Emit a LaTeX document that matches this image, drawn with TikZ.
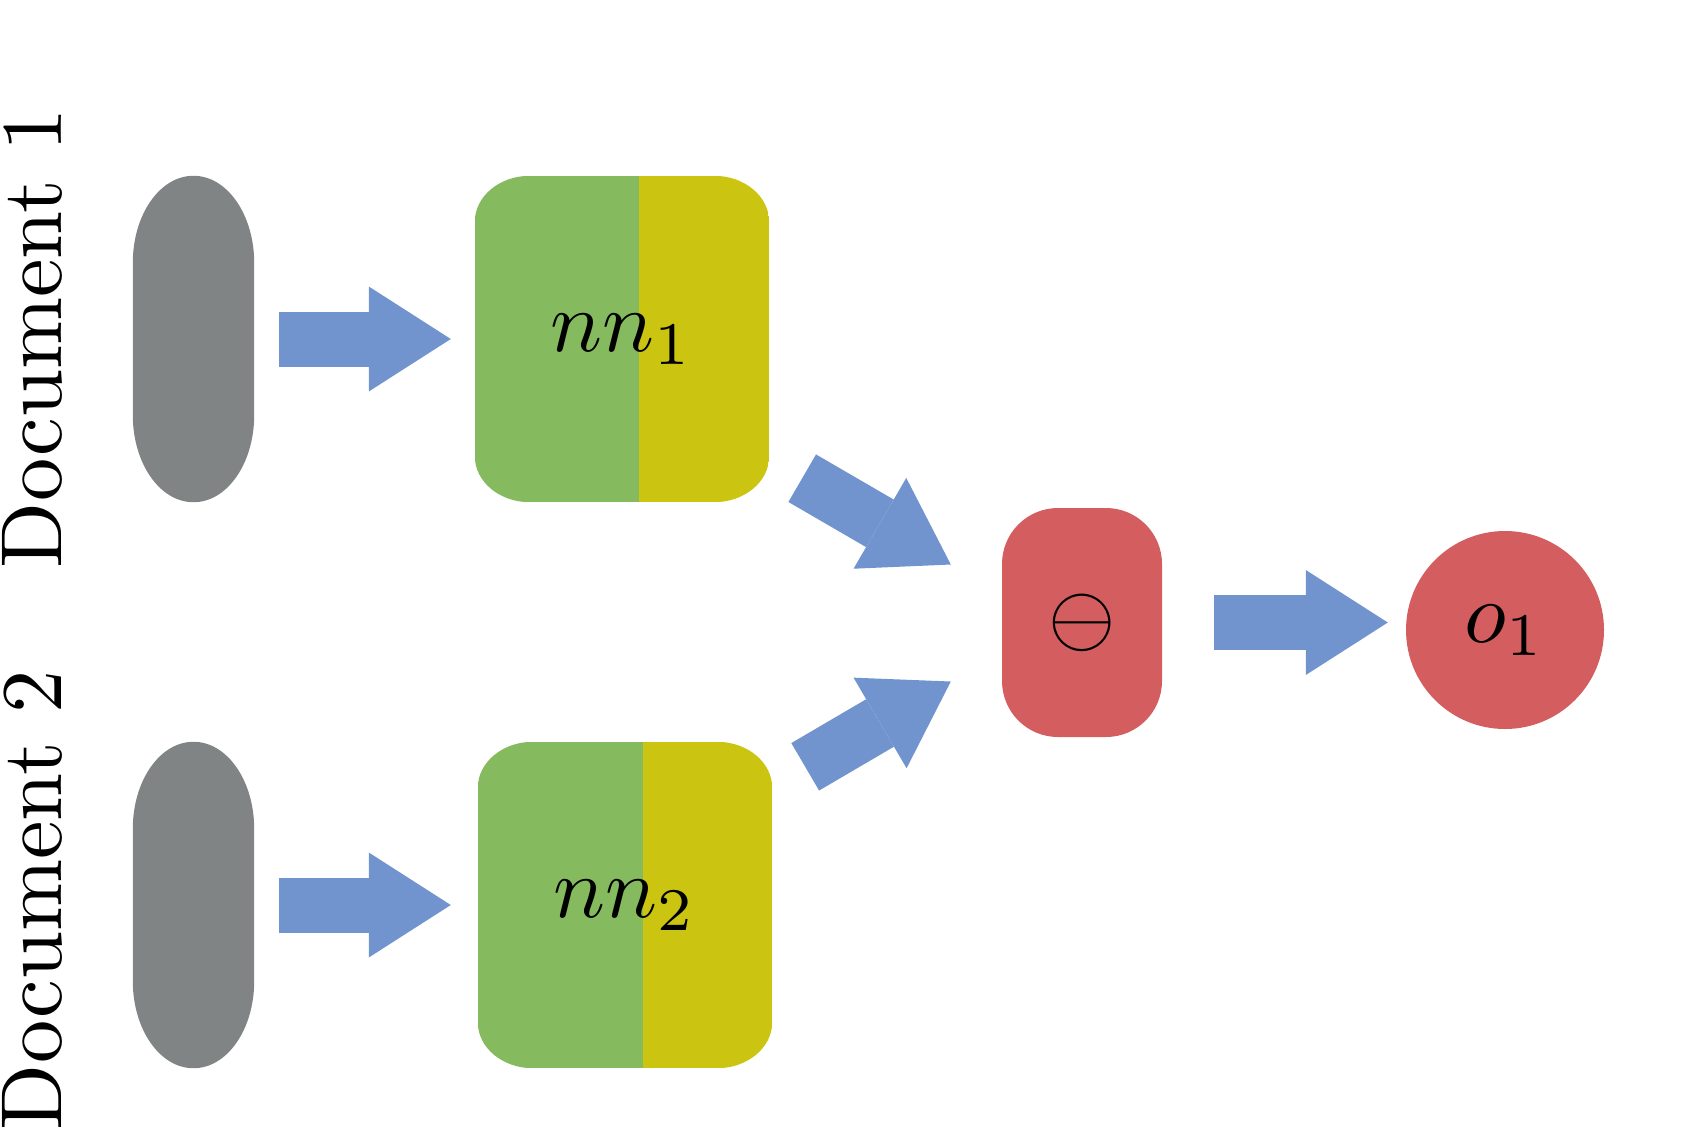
\documentclass[tikz,border=0pt]{standalone}
\usetikzlibrary{calc,arrows.meta}
\pgfdeclarelayer{background}
\pgfsetlayers{background,main}
\definecolor{grayc}{RGB}{128,132,132}
\definecolor{greenc}{RGB}{134,186,94}
\definecolor{yellowc}{RGB}{203,197,17}
\definecolor{redc}{RGB}{212,94,95}
\definecolor{bluec}{RGB}{114,148,206}
\newcommand\ellpath[3]{($(#1.north west)+(#2,0)$) -- ($(#1.north east)+(-#2,0)$) arc[start angle=90,end angle=0,x radius=#2pt,y radius=#3pt] -- ($(#1.south east)+(0,-#3)$) arc[start angle=0,end angle=-90,x radius=#2pt,y radius=#3pt] -- ($(#1.south west)+(#2,0)$) arc[start angle=-90,end angle=-180,x radius=#2pt,y radius=#3pt] -- ($(#1.north west)+(0,#3)$) arc[start angle=180,end angle=90,x radius=#2pt,y radius=#3pt] -- cycle}
\newcommand\bigtxt[1]{\scalebox{8.65}{#1}}
\tikzset{
  every node/.style={inner sep=0pt},
  blob/.style={rectangle, minimum width=121pt, minimum height=326pt},
  nnbox/.style={rectangle, minimum width=294pt, minimum height=326pt},
  sumbox/.style={rectangle, rounded corners=56pt, fill=redc, minimum width=160pt, minimum height=229pt},
  outnode/.style={circle, fill=redc, minimum size=198pt},
  doclabel/.style={rotate=90, anchor=base},
  bigarrow/.style={draw=bluec, line width=55pt, line cap=butt,
    -{Triangle[length=82pt 0 0, width=105pt 0 0, line width=0pt]}},
}
\begin{document}
\begin{tikzpicture}[x=1pt,y=-1pt]
\useasboundingbox (0,0) rectangle (1699,1136);
% labels
\node[doclabel] (doc1) at (61,338) {\bigtxt{Document 1}};
\node[doclabel] (doc2) at (61,900) {\bigtxt{Document 2}};
% nodes
\node[blob] (g1) at (193.5,339) {};
\node[blob] (g2) at (193.5,905) {};
\node[nnbox] (n1) at (622,339) {\bigtxt{$nn_1$}};
\node[nnbox] (n2) at (625,905) {\bigtxt{$nn_2$}};
\node[sumbox] (r) at (1082,622.5) {\bigtxt{$\ominus$}};
\node[outnode] (o1) at (1505,630) {\bigtxt{$o_1$}};
% backgrounds
\begin{pgfonlayer}{background}
  \fill[grayc] \ellpath{g1}{60.5}{87};
  \fill[grayc] \ellpath{g2}{60.5}{87};
  \begin{scope}
    \clip \ellpath{n1}{55}{46};
    \fill[greenc] (n1.north west) rectangle ($(n1.south west)+(164,0)$);
    \fill[yellowc] ($(n1.north west)+(164,0)$) rectangle (n1.south east);
  \end{scope}
  \begin{scope}
    \clip \ellpath{n2}{55}{46};
    \fill[greenc] (n2.north west) rectangle ($(n2.south west)+(165,0)$);
    \fill[yellowc] ($(n2.north west)+(165,0)$) rectangle (n2.south east);
  \end{scope}
\end{pgfonlayer}
% connectors
\coordinate (d1s) at ($(n1.south east)+(33,-24)$);
\coordinate (d1e) at ($(r.west)+(-51,-58)$);
\coordinate (d2s) at ($(n2.north east)+(33,25)$);
\coordinate (d2e) at ($(r.west)+(-51,59)$);
\draw[bigarrow, shorten <=25pt, shorten >=24pt] (g1) -- (n1);
\draw[bigarrow, shorten <=25pt, shorten >=27pt] (g2) -- (n2);
\draw[bigarrow] (d1s) -- (d1e);
\draw[bigarrow] (d2s) -- (d2e);
\draw[bigarrow, shorten <=52pt, shorten >=18pt] (r.east) -- (r.east -| o1.west);
\end{tikzpicture}
\end{document}
